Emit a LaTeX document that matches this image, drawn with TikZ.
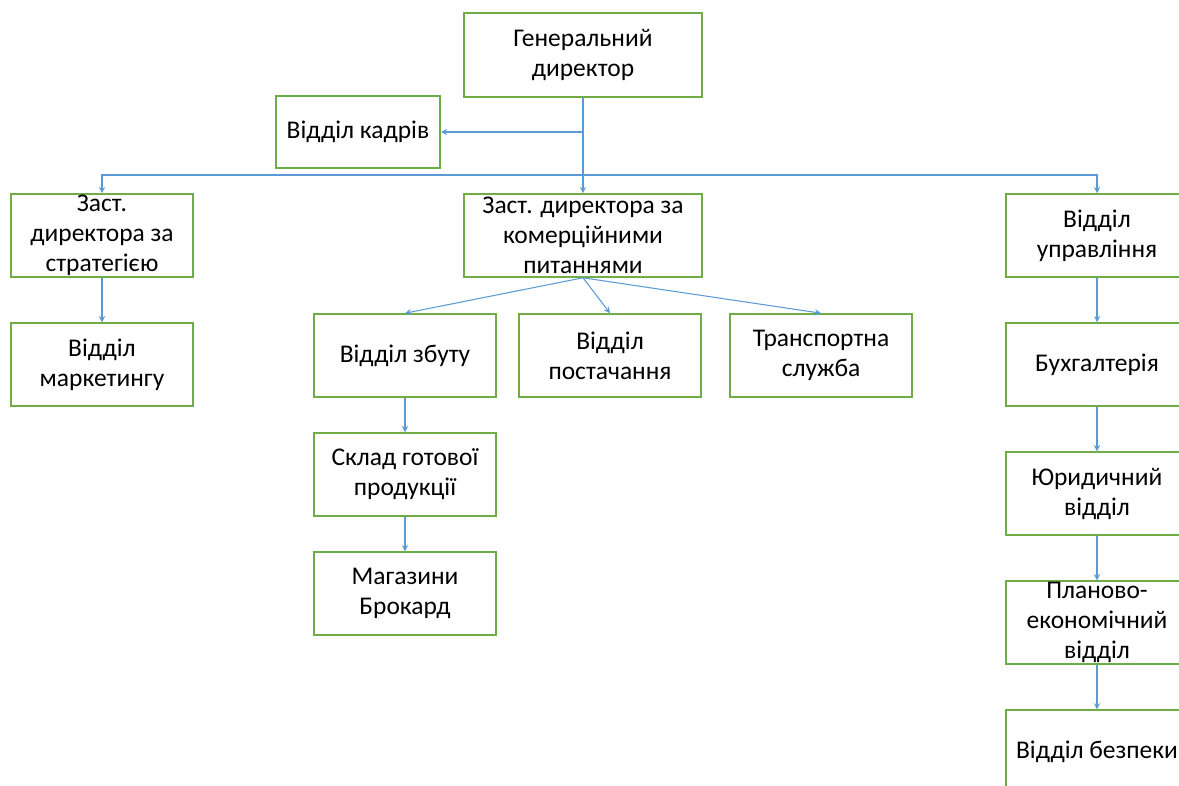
\documentclass[tikz,border=0pt]{standalone}
\usepackage{fontspec}
\setmainfont{Carlito}
\usepackage{tikz}
\usetikzlibrary{arrows, positioning}
\definecolor{boxgreen}{RGB}{112, 173, 71}
\definecolor{linkblue}{RGB}{91, 155, 213}

\begin{document}
\begin{tikzpicture}[
    x=0.02cm, y=-0.02cm,
    node distance=0.89cm,
    box/.style={rectangle, draw=boxgreen, line width=0.9pt, fill=white,
        minimum width=3.64cm, minimum height=1.66cm, inner sep=0pt,
        align=center, font=\fontsize{14.5}{17}\selectfont},
    widebox/.style={box, minimum width=4.76cm},
    arrow/.style={->,>=stealth,linkblue,line width=0.6pt}
]
    \path[use as bounding box, fill=white] (0,0) rectangle (1179,785);
    \clip (0,0) rectangle (1179,785);

    % Row 1: director
    \node[widebox, minimum height=1.68cm] (gen) at (583,55) {Генеральний\\директор};
    \node[box, minimum width=3.28cm, minimum height=1.44cm] (kadry) at (358,132) {Відділ кадрів};
    \coordinate (bus) at (583,175);

    % Row 2: deputies
    \node[box] (strat) at (102,235.5) {Заст.\\директора за\\стратегією};
    \node[widebox] (komerc) at (583,235.5) {Заст. директора за\\комерційними\\питаннями};
    \node[box] (upravl) at (1097,235.5) {Відділ\\управління};

    % Left column
    \node[box, below=of strat] (marketing) {Відділ\\маркетингу};

    % Middle
    \node[box] (zbut) at (405,355.5) {Відділ збуту};
    \node[box, right=0.43cm of zbut] (postach) {Відділ\\постачання};
    \node[box, right=0.55cm of postach] (transport) {Транспортна\\служба};
    \node[box, below=0.69cm of zbut] (sklad) {Склад готової\\продукції};
    \node[box, below=0.69cm of sklad] (magazyny) {Магазини\\Брокард};

    % Right column
    \node[box, below=of upravl] (buh) {Бухгалтерія};
    \node[box, below=of buh] (yuryd) {Юридичний\\відділ};
    \node[box, below=of yuryd] (plan) {Планово-\\економічний\\відділ};
    \node[box, below=of plan] (bezpeka) {Відділ безпеки};

    % Arrows
    \draw[arrow] (gen.south) |- (kadry.east);
    \draw[arrow] (gen) -- (komerc);
    \draw[arrow] (bus) -| (strat.north);
    \draw[arrow] (bus) -| (upravl.north);
    \draw[arrow] (strat) -- (marketing);
    \draw[arrow] (komerc.south) -- (zbut.north);
    \draw[arrow] (komerc.south) -- (postach.north);
    \draw[arrow] (komerc.south) -- (transport.north);
    \draw[arrow] (zbut) -- (sklad);
    \draw[arrow] (sklad) -- (magazyny);
    \draw[arrow] (upravl) -- (buh);
    \draw[arrow] (buh) -- (yuryd);
    \draw[arrow] (yuryd) -- (plan);
    \draw[arrow] (plan) -- (bezpeka);
\end{tikzpicture}
\end{document}
